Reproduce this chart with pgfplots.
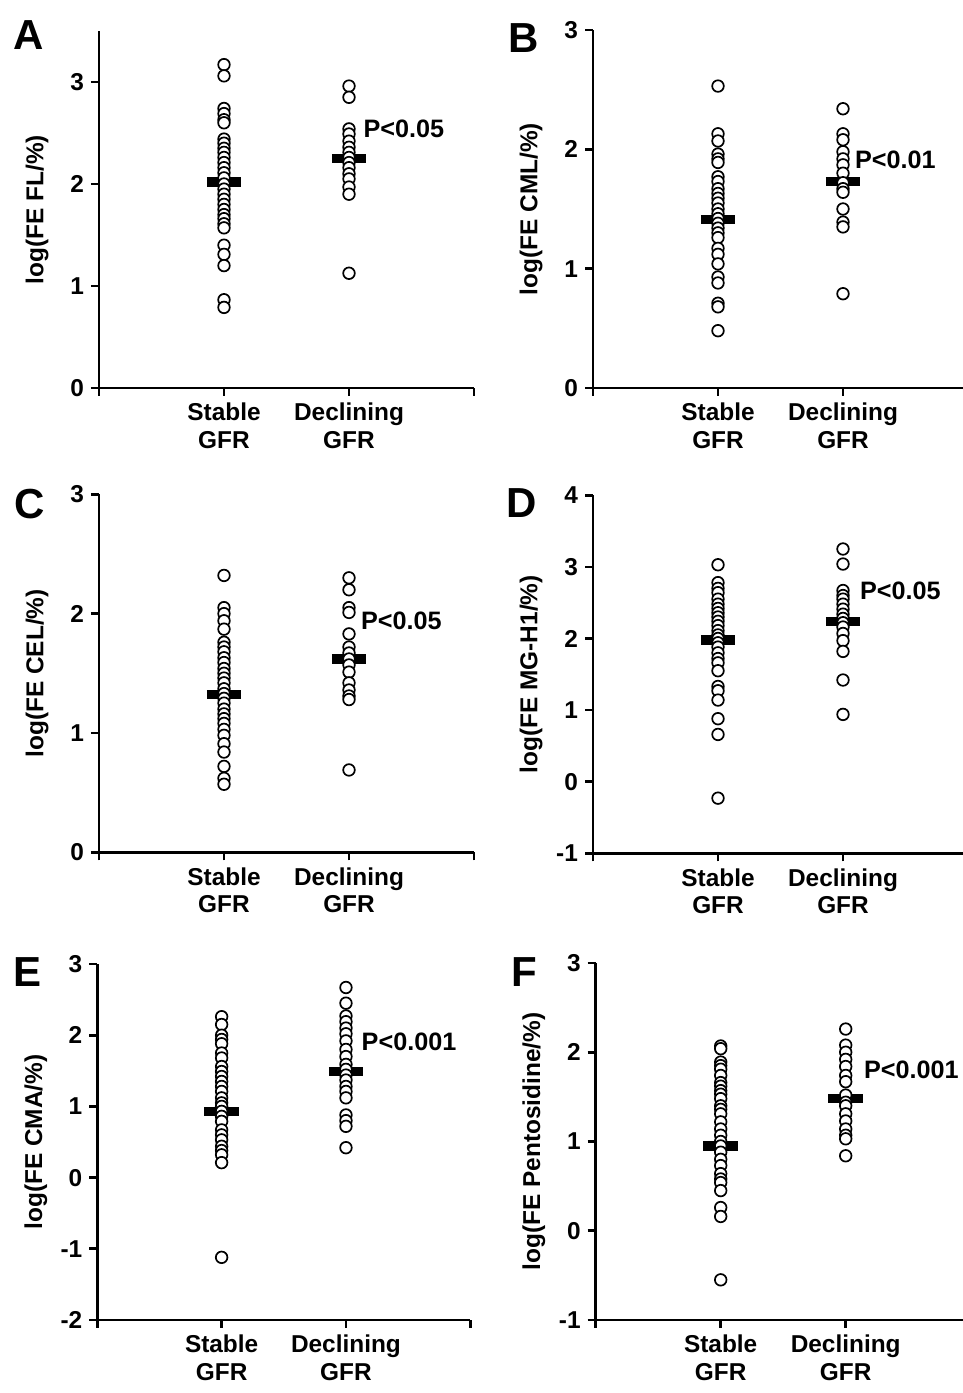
\documentclass[border=0pt]{standalone}
\usepackage{fontspec}
\setmainfont{Liberation Sans}
\usepackage{pgfplots}
\pgfplotsset{compat=1.18}

\pgfplotsset{
  panel/.style={
    scale only axis, width=187.5pt, height=179pt,
    anchor=south west, clip=false,
    xmin=0, xmax=3,
    xtick={0,1,2,3},
    xticklabels={,Stable\\GFR,Declining\\GFR,},
    axis x line*=bottom, axis y line*=left,
    axis line style={-, line width=1.4pt},
    tick align=outside, major tick length=4pt,
    major tick style={black, line width=1.4pt},
    xticklabel style={align=center, font=\fontsize{12.2}{13.8}\selectfont\bfseries},
    yticklabel style={font=\fontsize{12.2}{14}\selectfont\bfseries},
    ylabel style={at={(axis description cs:-0.165,0.5)}, anchor=center,
      font=\fontsize{12.2}{14}\selectfont\bfseries},
  },
  dots/.style={only marks, mark=*, mark size=2.9pt,
    mark options={fill=white, draw=black, line width=0.85pt}},
  meanbar/.style={black, line width=4.6pt, mark=none},
}
\newcommand{\plabel}{\fontsize{12.6}{14}\selectfont\bfseries}
\newcommand{\panel}{\fontsize{21}{21}\selectfont\bfseries}

\begin{document}
\begin{tikzpicture}
\useasboundingbox (0,0) rectangle (481.5pt,696.5pt);

% A
\begin{axis}[panel, at={(49.5pt,502.5pt)}, height=178.5pt,
  ymin=0, ymax=3.5, ytick={0,1,2,3}, yticklabels={0,1,2,3},
  ylabel={log(FE FL/\%)}]
\addplot[meanbar] coordinates {(0.862,2.02) (1.138,2.02)};
\addplot[meanbar] coordinates {(1.862,2.25) (2.138,2.25)};
\addplot[dots] coordinates {(1,3.17) (1,3.06) (1,2.74) (1,2.69) (1,2.63) (1,2.60)
  (1,2.44) (1,2.40) (1,2.35) (1,2.31) (1,2.26) (1,2.21) (1,2.16) (1,2.11) (1,2.06)
  (1,2.00) (1,1.95) (1,1.90) (1,1.85) (1,1.80) (1,1.75) (1,1.70) (1,1.66) (1,1.61)
  (1,1.57) (1,1.40) (1,1.31) (1,1.20) (1,0.865) (1,0.79)};
\addplot[dots] coordinates {(2,2.96) (2,2.85) (2,2.54) (2,2.49) (2,2.42) (2,2.36)
  (2,2.31) (2,2.26) (2,2.21) (2,2.16) (2,2.10) (2,2.05) (2,1.97) (2,1.90) (2,1.125)};
\node[anchor=west, font=\plabel] at (axis cs:2.06,2.54) {P<0.05};
\node[font=\panel] at (axis description cs:-0.188,0.99) {A};
\end{axis}

% B
\begin{axis}[panel, at={(296.5pt,502.5pt)},
  ymin=0, ymax=3, ytick={0,1,2,3}, yticklabels={0,1,2,3},
  ylabel={log(FE CML/\%)}]
\addplot[meanbar] coordinates {(0.862,1.41) (1.138,1.41)};
\addplot[meanbar] coordinates {(1.862,1.73) (2.138,1.73)};
\addplot[dots] coordinates {(1,2.53) (1,2.13) (1,2.07) (1,1.96) (1,1.92) (1,1.89)
  (1,1.77) (1,1.73) (1,1.67) (1,1.63) (1,1.59) (1,1.55) (1,1.50) (1,1.46) (1,1.42)
  (1,1.38) (1,1.34) (1,1.30) (1,1.26) (1,1.17) (1,1.12) (1,1.04) (1,0.93) (1,0.88)
  (1,0.71) (1,0.68) (1,0.48)};
\addplot[dots] coordinates {(2,2.34) (2,2.13) (2,2.08) (2,1.98) (2,1.92) (2,1.87)
  (2,1.80) (2,1.72) (2,1.67) (2,1.64) (2,1.50) (2,1.39) (2,1.35) (2,0.79)};
\node[anchor=west, font=\plabel] at (axis cs:2.04,1.91) {P<0.01};
\node[font=\panel] at (axis description cs:-0.184,0.978) {B};
\end{axis}

% C
\begin{axis}[panel, at={(49.5pt,270.35pt)},
  ymin=0, ymax=3, ytick={0,1,2,3}, yticklabels={0,1,2,3},
  ylabel={log(FE CEL/\%)}]
\addplot[meanbar] coordinates {(0.862,1.32) (1.138,1.32)};
\addplot[meanbar] coordinates {(1.862,1.62) (2.138,1.62)};
\addplot[dots] coordinates {(1,2.32) (1,2.05) (1,2.00) (1,1.94) (1,1.87) (1,1.76)
  (1,1.72) (1,1.68) (1,1.63) (1,1.59) (1,1.54) (1,1.50) (1,1.46) (1,1.42) (1,1.37)
  (1,1.33) (1,1.29) (1,1.25) (1,1.20) (1,1.16) (1,1.12) (1,1.08) (1,1.03) (1,0.98)
  (1,0.91) (1,0.84) (1,0.72) (1,0.62) (1,0.57)};
\addplot[dots] coordinates {(2,2.30) (2,2.20) (2,2.05) (2,2.01) (2,1.83) (2,1.72)
  (2,1.67) (2,1.62) (2,1.57) (2,1.51) (2,1.42) (2,1.36) (2,1.31) (2,1.28) (2,0.69)};
\node[anchor=west, font=\plabel] at (axis cs:2.04,1.94) {P<0.05};
\node[font=\panel] at (axis description cs:-0.184,0.973) {C};
\end{axis}

% D
\begin{axis}[panel, at={(296.5pt,269.85pt)},
  ymin=-1, ymax=4, ytick={-1,0,1,2,3,4}, yticklabels={-1,0,1,2,3,4},
  ylabel={log(FE MG-H1/\%)}]
\addplot[meanbar] coordinates {(0.862,1.98) (1.138,1.98)};
\addplot[meanbar] coordinates {(1.862,2.24) (2.138,2.24)};
\addplot[dots] coordinates {(1,3.03) (1,2.78) (1,2.70) (1,2.64) (1,2.55) (1,2.48)
  (1,2.42) (1,2.36) (1,2.30) (1,2.24) (1,2.18) (1,2.11) (1,2.05) (1,2.00) (1,1.94)
  (1,1.88) (1,1.80) (1,1.72) (1,1.66) (1,1.55) (1,1.33) (1,1.27) (1,1.14) (1,0.88)
  (1,0.66) (1,-0.23)};
\addplot[dots] coordinates {(2,3.25) (2,3.04) (2,2.67) (2,2.60) (2,2.55) (2,2.48)
  (2,2.41) (2,2.34) (2,2.28) (2,2.22) (2,2.16) (2,2.07) (2,1.97) (2,1.82) (2,1.42)
  (2,0.94)};
\node[anchor=west, font=\plabel] at (axis cs:2.08,2.67) {P<0.05};
\node[font=\panel] at (axis description cs:-0.189,0.978) {D};
\end{axis}

% E
\begin{axis}[panel, at={(48.65pt,36.5pt)}, width=186.5pt, height=178pt,
  ymin=-2, ymax=3, ytick={-2,-1,0,1,2,3}, yticklabels={-2,-1,0,1,2,3},
  ylabel={log(FE CMA/\%)}]
\addplot[meanbar] coordinates {(0.862,0.93) (1.138,0.93)};
\addplot[meanbar] coordinates {(1.862,1.49) (2.138,1.49)};
\addplot[dots] coordinates {(1,2.26) (1,2.15) (1,2.00) (1,1.94) (1,1.88) (1,1.75)
  (1,1.68) (1,1.56) (1,1.49) (1,1.42) (1,1.35) (1,1.28) (1,1.21) (1,1.12) (1,1.05)
  (1,1.00) (1,0.93) (1,0.86) (1,0.79) (1,0.67) (1,0.60) (1,0.53) (1,0.44) (1,0.38)
  (1,0.32) (1,0.21) (1,-1.12)};
\addplot[dots] coordinates {(2,2.67) (2,2.45) (2,2.27) (2,2.19) (2,2.10) (2,2.02)
  (2,1.92) (2,1.80) (2,1.70) (2,1.59) (2,1.52) (2,1.44) (2,1.37) (2,1.28) (2,1.21)
  (2,1.12) (2,0.88) (2,0.80) (2,0.72) (2,0.42)};
\node[anchor=west, font=\plabel] at (axis cs:2.07,1.91) {P<0.001};
\node[font=\panel] at (axis description cs:-0.188,0.977) {E};
\end{axis}

% F
\begin{axis}[panel, at={(297.85pt,36.5pt)}, height=178.5pt,
  ymin=-1, ymax=3, ytick={-1,0,1,2,3}, yticklabels={-1,0,1,2,3},
  ylabel={log(FE Pentosidine/\%)}]
\addplot[meanbar] coordinates {(0.862,0.95) (1.138,0.95)};
\addplot[meanbar] coordinates {(1.862,1.48) (2.138,1.48)};
\addplot[dots] coordinates {(1,2.07) (1,2.04) (1,1.89) (1,1.85) (1,1.81) (1,1.74)
  (1,1.66) (1,1.62) (1,1.57) (1,1.53) (1,1.48) (1,1.40) (1,1.36) (1,1.31) (1,1.22)
  (1,1.14) (1,1.07) (1,1.00) (1,0.95) (1,0.88) (1,0.80) (1,0.73) (1,0.64) (1,0.58)
  (1,0.54) (1,0.45) (1,0.26) (1,0.16) (1,-0.55)};
\addplot[dots] coordinates {(2,2.26) (2,2.08) (2,2.00) (2,1.92) (2,1.84) (2,1.74)
  (2,1.67) (2,1.52) (2,1.44) (2,1.40) (2,1.31) (2,1.23) (2,1.14) (2,1.07) (2,1.03)
  (2,0.84)};
\node[anchor=west, font=\plabel] at (axis cs:2.09,1.80) {P<0.001};
\node[font=\panel] at (axis description cs:-0.191,0.975) {F};
\end{axis}
\end{tikzpicture}
\end{document}
